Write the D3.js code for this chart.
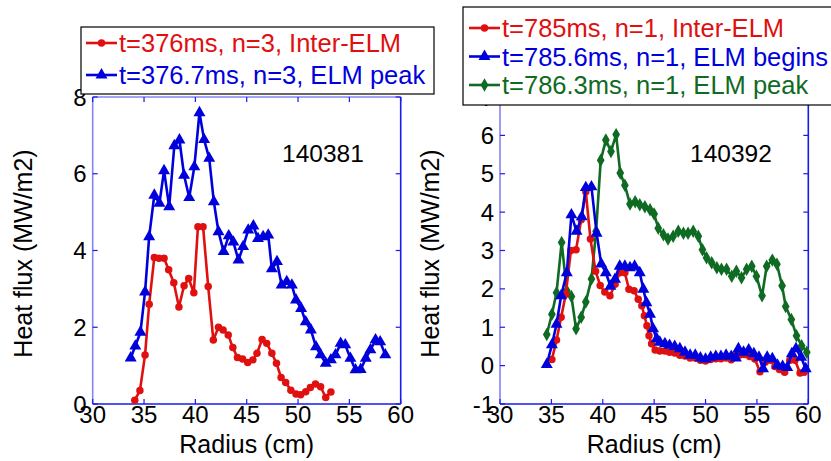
<!DOCTYPE html>
<html><head><meta charset="utf-8">
<script src="https://cdn.jsdelivr.net/npm/d3@7"></script>
<style>body{margin:0;background:#fff}svg{display:block;font-family:"Liberation Sans",Arial,sans-serif}</style>
</head><body>
<svg id="c" width="831" height="461"></svg>
<script>
// ---- Data ----
const xTicks = [30, 35, 40, 45, 50, 55, 60];
const yTicksL = [0, 2, 4, 6, 8];
const yTicksR = [-1, 0, 1, 2, 3, 4, 5, 6, 7];

// Left panel (shot 140381)
const redL_x = [34.1,34.6,35.1,35.5,36.0,36.45,36.95,37.4,37.9,38.4,38.9,39.35,39.85,40.25,40.75,41.25,41.75,42.25,42.7,43.2,43.65,44.1,44.6,45.1,45.6,46.0,46.5,46.95,47.45,47.9,48.35,48.8,49.3,49.8,50.25,50.75,51.2,51.7,52.2,52.7,53.2];
const redL_y = [0.1,0.35,1.28,2.6,3.82,3.8,3.8,3.5,3.16,2.53,3.08,3.27,2.9,4.62,4.62,3.06,1.67,2.0,1.93,1.8,1.47,1.21,1.17,1.08,1.15,1.32,1.68,1.58,1.32,1.06,0.69,0.56,0.36,0.26,0.24,0.32,0.43,0.52,0.45,0.17,0.31];
const blueL_x = [33.7,34.15,34.65,35.1,35.5,36.0,36.5,36.95,37.45,37.95,38.45,38.9,39.4,39.9,40.4,40.85,41.35,41.8,42.25,42.75,43.25,43.7,44.2,44.65,45.15,45.65,46.1,46.6,47.1,47.45,47.95,48.4,48.9,49.4,49.8,50.3,50.75,51.25,51.75,52.2,52.7,53.2,53.65,54.15,54.6,55.1,55.6,56.1,56.6,57.05,57.55,58.0,58.5];
const blueL_y = [1.2,1.51,1.87,2.92,4.36,5.44,5.23,6.08,5.14,6.73,6.88,5.96,5.38,6.18,7.59,6.89,6.4,5.27,4.49,3.97,4.38,4.22,3.75,4.1,4.53,4.64,4.31,4.36,4.4,3.52,3.71,3.1,3.19,3.1,2.71,2.49,2.14,1.93,1.49,1.28,1.06,1.15,1.28,1.58,1.54,1.19,0.89,0.9,1.19,1.41,1.67,1.62,1.28];

// Right panel (shot 140392)
const redR_x = [35.05,35.5,35.95,36.4,36.9,37.4,37.9,38.35,38.8,39.3,39.75,40.2,40.7,41.2,41.65,42.15,42.55,43.05,43.45,43.8,44.05,44.3,44.5,44.75,45.1,45.55,46.05,46.5,47.0,47.5,48.0,48.5,49.0,49.5,50.0,50.5,51.0,51.5,52.0,52.5,52.9,53.35,53.8,54.3,54.8,55.3,55.8,56.3,56.75,57.2,57.7,58.2,58.7,59.2,59.6];
const redR_y = [0.16,0.67,1.26,1.86,3.0,3.02,3.8,4.53,3.3,2.46,2.09,1.92,1.82,2.12,2.42,2.42,1.99,1.95,1.73,1.56,1.3,1.04,0.78,0.57,0.41,0.38,0.38,0.35,0.33,0.27,0.25,0.2,0.2,0.14,0.12,0.16,0.18,0.18,0.2,0.15,0.28,0.28,0.29,0.24,0.17,-0.16,0.09,0.14,-0.02,-0.1,-0.17,0.14,0.14,-0.19,-0.17];
const blueR_x = [34.55,35.05,35.5,35.95,36.5,36.95,37.45,37.95,38.35,38.9,39.4,39.85,40.3,40.75,41.2,41.65,42.15,42.65,43.1,43.6,43.95,44.25,44.6,44.9,45.25,45.55,46.05,46.5,47.0,47.5,48.0,48.5,49.0,49.5,50.0,50.5,51.0,51.5,52.0,52.5,52.95,53.2,53.7,54.2,54.7,55.2,55.6,56.0,56.5,57.0,57.5,57.95,58.4,58.8,59.3,59.75];
const blueR_y = [0.03,0.54,1.08,1.82,2.42,3.93,3.5,3.88,4.64,4.66,3.45,2.65,2.42,2.07,2.25,2.59,2.59,2.55,2.59,2.42,1.99,1.64,1.34,0.96,0.7,0.61,0.57,0.53,0.5,0.44,0.35,0.27,0.27,0.2,0.17,0.22,0.24,0.24,0.27,0.24,0.2,0.44,0.35,0.41,0.31,0.22,-0.08,0.22,0.18,0.01,-0.02,-0.05,0.31,0.44,0.22,-0.08];
const greenR_x = [34.55,35.05,35.5,36.0,36.5,36.95,37.4,37.9,38.35,38.9,39.35,39.8,40.3,40.8,41.3,41.7,42.15,42.65,43.15,43.6,44.1,44.6,45.0,45.4,45.9,46.35,46.85,47.35,47.85,48.3,48.8,49.3,49.7,50.1,50.6,51.1,51.55,52.05,52.55,53.0,53.5,54.0,54.5,54.95,55.5,55.95,56.5,56.95,57.45,57.8,58.35,58.85,59.35,59.85];
const greenR_y = [0.81,1.34,1.9,3.21,1.95,1.8,0.96,1.26,1.66,2.26,3.5,5.35,5.88,5.58,6.02,5.02,4.7,4.21,4.27,4.19,4.14,4.06,3.95,3.58,3.41,3.3,3.37,3.5,3.45,3.45,3.5,3.37,3.02,2.81,2.68,2.55,2.51,2.51,2.33,2.46,2.29,2.51,2.59,2.33,1.82,2.59,2.75,2.64,2.08,1.54,1.2,0.78,0.52,0.35];

const legendL = ["t=376ms, n=3, Inter-ELM", "t=376.7ms, n=3, ELM peak"];
const legendR = ["t=785ms, n=1, Inter-ELM", "t=785.6ms, n=1, ELM begins", "t=786.3ms, n=1, ELM peak"];
const shotL = "140381", shotR = "140392";
const xLabel = "Radius (cm)", yLabel = "Heat flux (MW/m2)";

// ---- Styles ----
const RED = "#e01010", BLUE = "#0000dd", GREEN = "#0f6a22";
const AXIS_DARK = "#1a1aee", AXIS_LIGHT = "#8585f2";

const svg = d3.select("#c");
const yTop = 97, yBot = 404;

const panels = [
  { x0: 92.7, x1: 400.7, ydom: [0, 8], yticks: yTicksL, shot: shotL, shotX: 323,
    series: [
      {x: redL_x, y: redL_y, color: RED, sym: "circle"},
      {x: blueL_x, y: blueL_y, color: BLUE, sym: "tri"}
    ]},
  { x0: 500, x1: 808.3, ydom: [-1, 7], yticks: yTicksR, shot: shotR, shotX: 731,
    series: [
      {x: greenR_x, y: greenR_y, color: GREEN, sym: "diamond"},
      {x: redR_x, y: redR_y, color: RED, sym: "circle"},
      {x: blueR_x, y: blueR_y, color: BLUE, sym: "tri"}
    ]}
];

function symPath(sym) {
  if (sym === "circle") return d3.symbol(d3.symbolCircle, 44)();
  if (sym === "tri") return d3.symbol(d3.symbolTriangle, 62)();
  return d3.symbol(d3.symbolDiamond, 52)();
}

panels.forEach(p => {
  const x = d3.scaleLinear().domain([30, 60]).range([p.x0, p.x1]);
  const y = d3.scaleLinear().domain(p.ydom).range([yBot, yTop]);
  const g = svg.append("g");

  g.append("line").attr("x1", p.x0).attr("x2", p.x0).attr("y1", yTop).attr("y2", yBot)
    .attr("stroke", AXIS_LIGHT).attr("stroke-width", 1.6);
  g.append("line").attr("x1", p.x0).attr("x2", p.x1).attr("y1", yTop).attr("y2", yTop)
    .attr("stroke", AXIS_LIGHT).attr("stroke-width", 1.6);
  g.append("line").attr("x1", p.x0).attr("x2", p.x1).attr("y1", yBot).attr("y2", yBot)
    .attr("stroke", AXIS_DARK).attr("stroke-width", 1.6);
  g.append("line").attr("x1", p.x1).attr("x2", p.x1).attr("y1", yTop).attr("y2", yBot)
    .attr("stroke", AXIS_DARK).attr("stroke-width", 1.6);

  xTicks.forEach(t => {
    g.append("line").attr("x1", x(t)).attr("x2", x(t)).attr("y1", yBot).attr("y2", yBot - 5)
      .attr("stroke", AXIS_DARK).attr("stroke-width", 1.2);
    g.append("line").attr("x1", x(t)).attr("x2", x(t)).attr("y1", yTop).attr("y2", yTop + 5)
      .attr("stroke", AXIS_DARK).attr("stroke-width", 1.2);
    g.append("text").attr("x", x(t)).attr("y", 423).attr("text-anchor", "middle")
      .attr("font-size", 24).attr("fill", "#000").text(t);
  });
  p.yticks.forEach(t => {
    g.append("line").attr("x1", p.x0).attr("x2", p.x0 + 5).attr("y1", y(t)).attr("y2", y(t))
      .attr("stroke", AXIS_DARK).attr("stroke-width", 1.2);
    g.append("line").attr("x1", p.x1).attr("x2", p.x1 - 5).attr("y1", y(t)).attr("y2", y(t))
      .attr("stroke", AXIS_DARK).attr("stroke-width", 1.2);
    g.append("text").attr("x", p.x0 - 6).attr("y", y(t) + 8.5).attr("text-anchor", "end")
      .attr("font-size", 24).attr("fill", "#000").text(t);
  });

  g.append("text").attr("x", (p.x0 + p.x1) / 2).attr("y", 453).attr("text-anchor", "middle")
    .attr("font-size", 25).attr("fill", "#000").text(xLabel);
  g.append("text").attr("transform", `translate(${p.x0 - 61},${(yTop + yBot) / 2 + 3}) rotate(-90)`)
    .attr("text-anchor", "middle").attr("font-size", 25).attr("fill", "#000").text(yLabel);

  g.append("text").attr("x", p.shotX).attr("y", 162).attr("text-anchor", "middle")
    .attr("font-size", 24.5).attr("fill", "#000").text(p.shot);

  p.series.forEach(s => {
    const pts = s.x.map((v, i) => [v, s.y[i]]);
    g.append("path").datum(pts)
      .attr("d", d3.line().x(d => x(d[0])).y(d => y(d[1])))
      .attr("fill", "none").attr("stroke", s.color).attr("stroke-width", 2.6)
      .attr("stroke-linejoin", "round");
    g.selectAll(null).data(pts).enter().append("path")
      .attr("d", symPath(s.sym))
      .attr("transform", d => `translate(${x(d[0])},${y(d[1])})`)
      .attr("fill", s.color);
  });
});

function legend(box, rows, items) {
  const g = svg.append("g");
  g.append("rect").attr("x", box.x).attr("y", box.y).attr("width", box.w).attr("height", box.h)
    .attr("fill", "#fff").attr("stroke", "#000").attr("stroke-width", 1.2);
  items.forEach((it, i) => {
    const yy = rows[i];
    g.append("line").attr("x1", box.lx0).attr("x2", box.lx1).attr("y1", yy).attr("y2", yy)
      .attr("stroke", it.color).attr("stroke-width", 2.6);
    g.append("path").attr("d", symPath(it.sym)).attr("fill", it.color)
      .attr("transform", `translate(${(box.lx0 + box.lx1) / 2},${yy})`);
    g.append("text").attr("x", box.lx1 + 2).attr("y", yy + 9).attr("font-size", 25.5)
      .attr("fill", it.color).text(it.label);
  });
}
legend({x: 81, y: 27, w: 353, h: 67, lx0: 86, lx1: 117}, [43, 75], [
  {label: legendL[0], color: RED, sym: "circle"},
  {label: legendL[1], color: BLUE, sym: "tri"}
]);
legend({x: 463, y: 7, w: 380, h: 98, lx0: 469, lx1: 500}, [28, 56.5, 85], [
  {label: legendR[0], color: RED, sym: "circle"},
  {label: legendR[1], color: BLUE, sym: "tri"},
  {label: legendR[2], color: GREEN, sym: "diamond"}
]);
</script>
</body></html>
